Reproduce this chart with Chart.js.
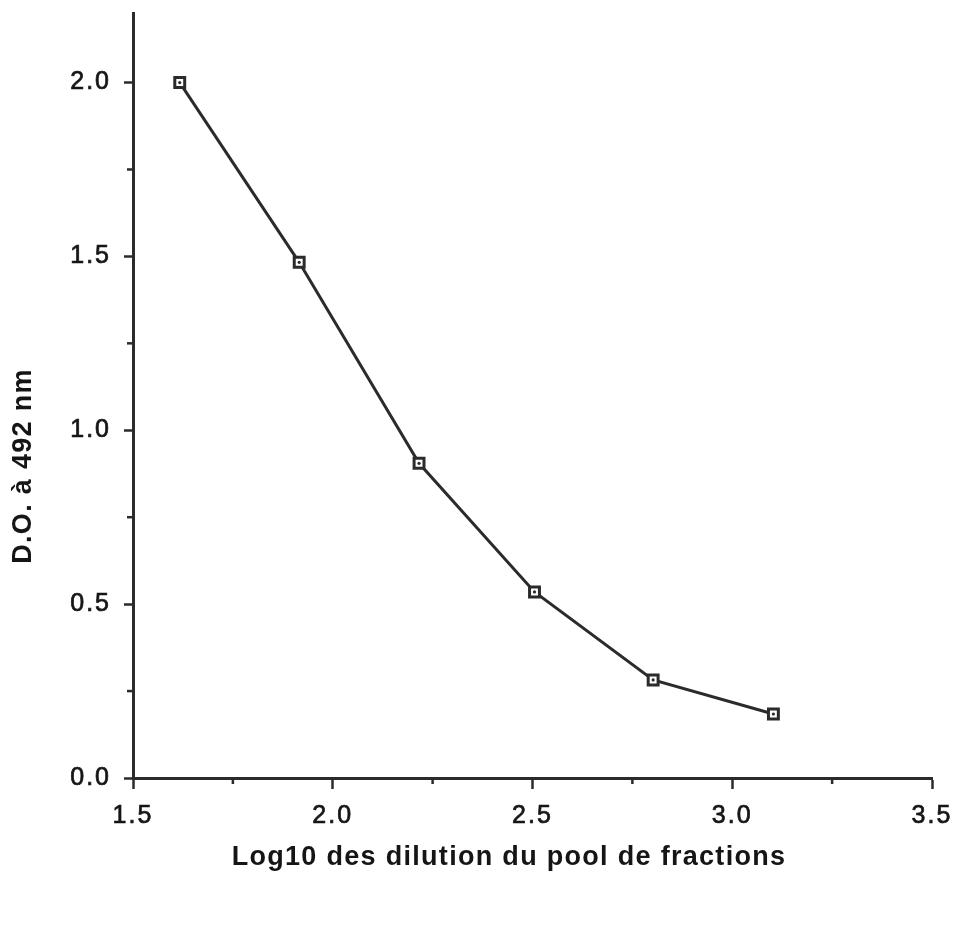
<!DOCTYPE html>
<html>
<head>
<meta charset="utf-8">
<script src="https://cdn.jsdelivr.net/npm/chart.js@4.4.1/dist/chart.umd.min.js"></script>
<style>
  html, body { margin: 0; padding: 0; background: #fff; }
  #wrap { width: 959px; height: 930px; }
</style>
</head>
<body>
<div id="wrap"><canvas id="c" width="959" height="930"></canvas></div>
<script>
// données
const logDilution = [1.617, 1.916, 2.216, 2.505, 2.802, 3.103];
const absorbance = [2.00, 1.483, 0.905, 0.535, 0.282, 0.184];
const xTicks = [1.5, 2.0, 2.5, 3.0, 3.5];
const yTicks = [0.0, 0.5, 1.0, 1.5, 2.0];
const xMinor = [1.75, 2.25, 2.75, 3.25];
const yMinor = [0.25, 0.75, 1.25, 1.75];
const xTitle = 'Log10 des dilution du pool de fractions';
const yTitle = 'D.O. à 492 nm';

const ink = '#2b2b2b';
const textInk = '#151515';
const fontFamily = '"Liberation Sans", Arial, Helvetica, sans-serif';
const points = logDilution.map((x, i) => ({ x: x, y: absorbance[i] }));

// espacement des lettres (police du document un peu large)
const spacing = {
    id: 'spacing',
    beforeLayout(chart) { chart.ctx.letterSpacing = '2px'; },
    beforeDraw(chart) { chart.ctx.letterSpacing = '2px'; }
};

// petites graduations + titres des axes
const extras = {
    id: 'extras',
    afterDraw(chart) {
        const ctx = chart.ctx;
        const xs = chart.scales.x, ys = chart.scales.y;
        ctx.save();
        ctx.strokeStyle = ink;
        ctx.lineWidth = 2.5;
        xMinor.forEach(v => {
            const px = xs.getPixelForValue(v);
            ctx.beginPath(); ctx.moveTo(px, xs.top); ctx.lineTo(px, xs.top + 6); ctx.stroke();
        });
        yMinor.forEach(v => {
            const py = ys.getPixelForValue(v);
            ctx.beginPath(); ctx.moveTo(ys.right, py); ctx.lineTo(ys.right - 6, py); ctx.stroke();
        });
        ctx.fillStyle = textInk;
        ctx.font = 'bold 27px ' + fontFamily;
        ctx.letterSpacing = '1.3px';
        ctx.textAlign = 'center';
        ctx.textBaseline = 'middle';
        ctx.fillText(xTitle, 509, 858);
        ctx.translate(24, 466);
        ctx.rotate(-Math.PI / 2);
        ctx.fillText(yTitle, 0, 0);
        ctx.restore();
    }
};

new Chart(document.getElementById('c'), {
    type: 'scatter',
    data: {
        datasets: [{
            data: points,
            showLine: true,
            borderColor: ink,
            borderWidth: 3,
            pointStyle: 'rect',
            pointRadius: 7,
            pointBorderWidth: 3,
            pointBackgroundColor: '#fff',
            pointBorderColor: ink,
            order: 2
        }, {
            data: points,
            showLine: false,
            pointStyle: 'circle',
            pointRadius: 1.6,
            pointBorderWidth: 0,
            pointBackgroundColor: ink,
            order: 1
        }]
    },
    options: {
        responsive: false,
        animation: false,
        layout: { padding: { left: 0, top: 13, right: 27, bottom: 0 } },
        plugins: { legend: { display: false }, tooltip: { enabled: false } },
        scales: {
            x: {
                type: 'linear',
                min: 1.5, max: 3.5,
                afterFit: s => { s.height = 152; s.paddingLeft = 0; s.paddingRight = 0; },
                afterBuildTicks: s => { s.ticks = xTicks.map(v => ({ value: v })); },
                border: { display: true, color: ink, width: 3 },
                grid: { drawOnChartArea: false, drawTicks: true, tickLength: 11, tickColor: ink, tickWidth: 2.5 },
                ticks: {
                    color: textInk, padding: 12,
                    textStrokeColor: textInk, textStrokeWidth: 0.7,
                    font: { family: fontFamily, size: 25 },
                    callback: v => Number(v).toFixed(1)
                }
            },
            y: {
                type: 'linear',
                min: 0, max: 2.2,
                afterFit: s => { s.width = 133; s.paddingTop = 0; s.paddingBottom = 0; },
                afterBuildTicks: s => { s.ticks = yTicks.map(v => ({ value: v })); },
                border: { display: true, color: ink, width: 3 },
                grid: { drawOnChartArea: false, drawTicks: true, tickLength: 9, tickColor: ink, tickWidth: 2.5 },
                ticks: {
                    color: textInk, padding: 13,
                    textStrokeColor: textInk, textStrokeWidth: 0.7,
                    font: { family: fontFamily, size: 25 },
                    callback: v => Number(v).toFixed(1)
                }
            }
        }
    },
    plugins: [spacing, extras]
});
</script>
</body>
</html>
